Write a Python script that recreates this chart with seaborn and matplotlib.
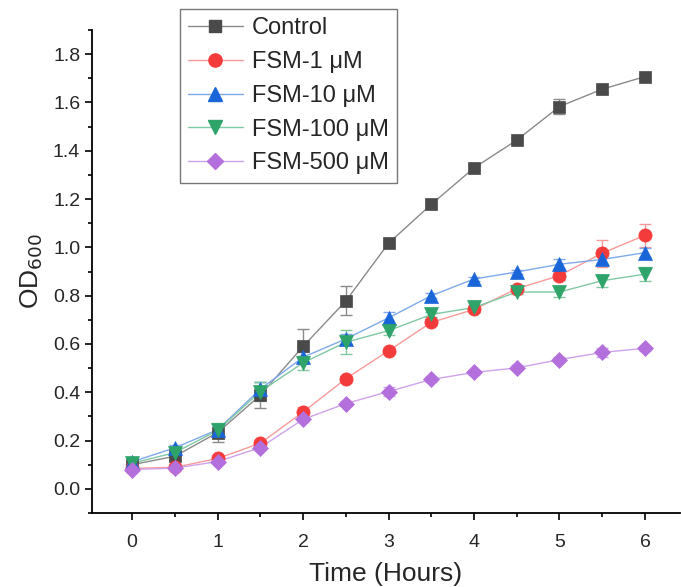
import numpy as np
import pandas as pd
import seaborn as sns
import matplotlib
matplotlib.use("Agg")
import matplotlib.pyplot as plt
from matplotlib.ticker import MultipleLocator

time = [0, 0.5, 1, 1.5, 2, 2.5, 3, 3.5, 4, 4.5, 5, 5.5, 6]
series_names = ["Control", "FSM-1 μM", "FSM-10 μM", "FSM-100 μM", "FSM-500 μM"]
control = [0.10, 0.135, 0.233, 0.388, 0.590, 0.778, 1.017, 1.178, 1.329, 1.444, 1.583, 1.655, 1.707]
fsm1 = [0.085, 0.089, 0.126, 0.189, 0.318, 0.456, 0.572, 0.689, 0.743, 0.829, 0.883, 0.976, 1.050]
fsm10 = [0.112, 0.170, 0.245, 0.413, 0.545, 0.621, 0.708, 0.800, 0.869, 0.898, 0.930, 0.950, 0.978]
fsm100 = [0.106, 0.150, 0.242, 0.403, 0.522, 0.607, 0.655, 0.722, 0.751, 0.815, 0.815, 0.862, 0.889]
fsm500 = [0.080, 0.086, 0.113, 0.171, 0.288, 0.353, 0.403, 0.453, 0.482, 0.501, 0.535, 0.565, 0.582]
control_err = [0.01, 0.015, 0.037, 0.055, 0.07, 0.06, 0.01, 0.01, 0.01, 0.01, 0.03, 0.01, 0.01]
fsm1_err = [0.005, 0.005, 0.01, 0.01, 0.02, 0.01, 0.01, 0.01, 0.01, 0.01, 0.02, 0.056, 0.048]
fsm10_err = [0.01, 0.01, 0.02, 0.03, 0.02, 0.02, 0.025, 0.01, 0.01, 0.01, 0.02, 0.02, 0.02]
fsm100_err = [0.01, 0.01, 0.03, 0.04, 0.03, 0.05, 0.02, 0.01, 0.01, 0.01, 0.02, 0.025, 0.03]
fsm500_err = [0.005, 0.005, 0.01, 0.01, 0.01, 0.01, 0.02, 0.01, 0.01, 0.01, 0.01, 0.02, 0.01]

values = [control, fsm1, fsm10, fsm100, fsm500]
errs = [control_err, fsm1_err, fsm10_err, fsm100_err, fsm500_err]
marker_colors = ["#4a4a4a", "#f43b3b", "#1a66d9", "#2ea36a", "#b36fdc"]
line_colors = ["#8a8a8a", "#f79a9a", "#7fa9ea", "#80c8a3", "#cfa3ec"]
markers = ["s", "o", "^", "v", "D"]
msizes = [8.5, 9.5, 10, 10, 8.5]

rows = []
for name, vals, er in zip(series_names, values, errs):
    for t, v, e in zip(time, vals, er):
        rows.append({"Time": t, "OD": v, "err": e, "Series": name})
df = pd.DataFrame(rows)

sns.set_style("ticks")
plt.rcParams["font.family"] = ["Liberation Sans", "DejaVu Sans"]

fig = plt.figure(figsize=(6.81, 5.87), dpi=100)
ax = fig.add_axes([92 / 681, 1 - 513 / 587, (680 - 92) / 681, (513 - 30) / 587])

handles = []
for i, name in enumerate(series_names):
    sub = df[df["Series"] == name]
    ax.errorbar(sub["Time"], sub["OD"], yerr=sub["err"], fmt="none",
                ecolor=line_colors[i], elinewidth=1.0, capsize=4, capthick=1.0, zorder=2)
    sns.lineplot(data=sub, x="Time", y="OD", ax=ax, color=line_colors[i],
                 linewidth=1.0, errorbar=None, legend=False, zorder=3)
    ax.plot(sub["Time"], sub["OD"], linestyle="none", marker=markers[i],
            markersize=msizes[i], markerfacecolor=marker_colors[i],
            markeredgecolor=marker_colors[i], markeredgewidth=0.5, zorder=4)
    h, = ax.plot([], [], color=line_colors[i], linewidth=1.0, marker=markers[i],
                 markersize=msizes[i], markerfacecolor=marker_colors[i],
                 markeredgecolor=marker_colors[i])
    handles.append(h)

ax.set_xlim(-0.47, 6.41)
ax.set_ylim(-0.1, 1.9)
ax.xaxis.set_major_locator(MultipleLocator(1))
ax.xaxis.set_minor_locator(MultipleLocator(0.5))
ax.yaxis.set_major_locator(MultipleLocator(0.2))
ax.yaxis.set_minor_locator(MultipleLocator(0.1))
ax.set_yticks(np.arange(0, 1.81, 0.2))
ax.set_yticklabels([f"{v:.1f}" for v in np.arange(0, 1.81, 0.2)])
ax.tick_params(axis="both", which="major", length=5, width=1.2, labelsize=14, direction="out", color="black")
ax.tick_params(axis="x", which="major", pad=10)
ax.tick_params(axis="both", which="minor", length=3, width=1.2, direction="out", color="black")
for s in ["top", "right"]:
    ax.spines[s].set_visible(False)
for s in ["left", "bottom"]:
    ax.spines[s].set_linewidth(1.3)
    ax.spines[s].set_color("black")

ax.set_xlabel("Time (Hours)", fontsize=19, labelpad=8)
ax.set_ylabel("OD$_{600}$", fontsize=19, labelpad=6)

leg = fig.legend(handles, series_names, loc="upper left",
                 bbox_to_anchor=(180 / 681, 1 - 9 / 587), bbox_transform=fig.transFigure,
                 fontsize=17, frameon=True, fancybox=False, handlelength=2.3,
                 labelspacing=0.5, borderpad=0.35, handletextpad=0.4, borderaxespad=0)
leg.get_frame().set_edgecolor("#555555")
leg.get_frame().set_linewidth(1.0)

fig.savefig("out.png", dpi=100)
